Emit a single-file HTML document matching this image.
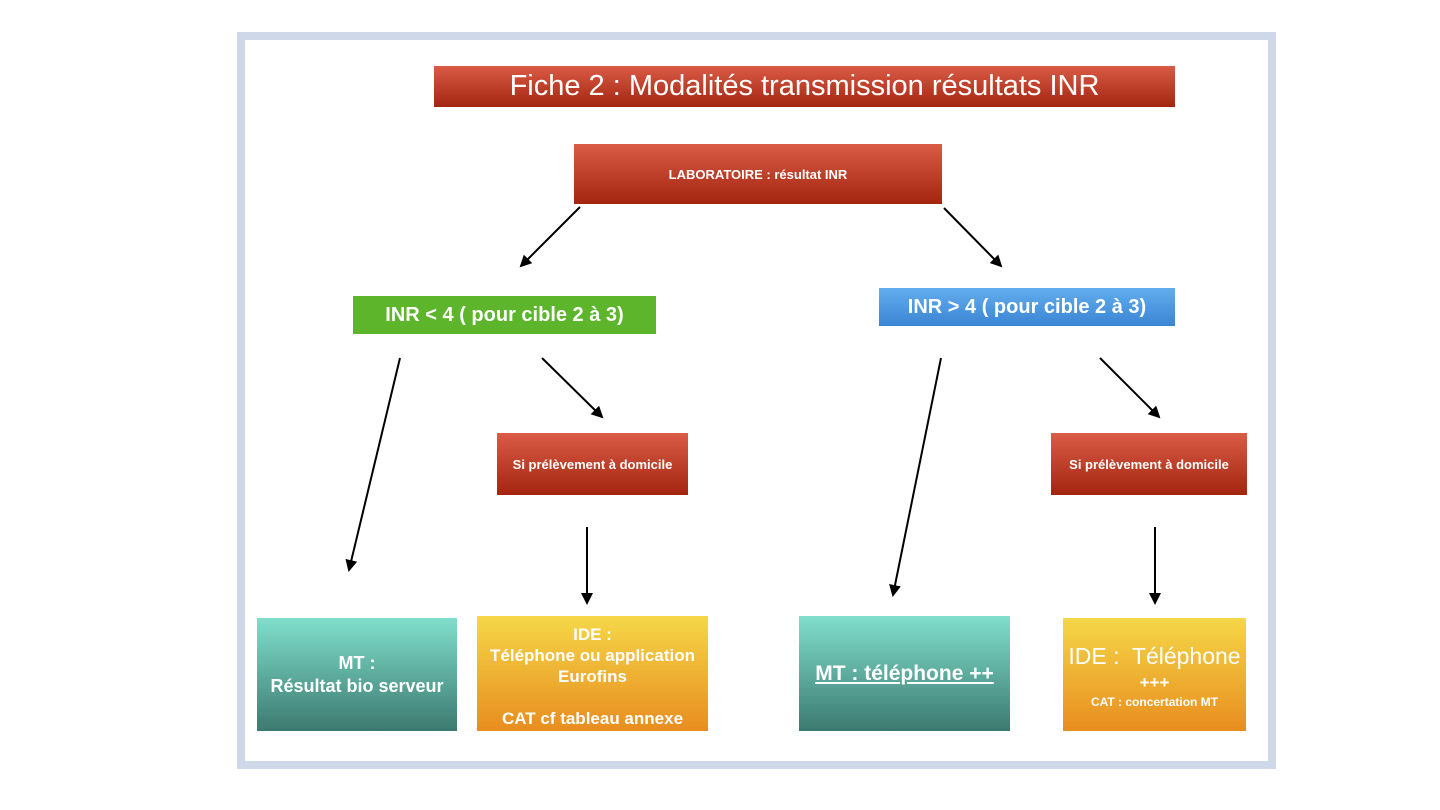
<!DOCTYPE html>
<html><head><meta charset="utf-8"><style>
html,body{margin:0;padding:0;background:#fff;}
body{width:1440px;height:810px;position:relative;overflow:hidden;font-family:"Liberation Sans",Arial,sans-serif;}
.frame{position:absolute;left:237px;top:32px;width:1023px;height:721px;border:8px solid #cfd8e8;background:#fff;}
.b{position:absolute;display:flex;flex-direction:column;align-items:center;justify-content:center;text-align:center;color:#fff;box-sizing:border-box;}
.red{background:linear-gradient(#da5c47,#a3250f);}
.green{background:#5cb52b;}
.blue{background:linear-gradient(#62aeee,#3a84d4);}
.teal{background:linear-gradient(#80dfcc,#3c7a70);}
.yel{background:linear-gradient(#f5d748,#e88d1f);}
svg{position:absolute;left:0;top:0;}
</style></head><body>
<div class="frame"></div>
<div class="b red" style="left:434px;top:66px;width:741px;height:41px;font-size:29px;">Fiche 2 : Modalités transmission résultats INR</div>
<div class="b red" style="left:574px;top:144px;width:368px;height:60px;font-size:13px;font-weight:bold;">LABORATOIRE : résultat INR</div>
<div class="b green" style="left:353px;top:296px;width:303px;height:38px;font-size:20px;font-weight:bold;">INR &lt; 4 ( pour cible 2 à 3)</div>
<div class="b blue" style="left:879px;top:288px;width:296px;height:38px;font-size:20px;font-weight:bold;">INR &gt; 4 ( pour cible 2 à 3)</div>
<div class="b red" style="left:497px;top:433px;width:191px;height:62px;font-size:13px;font-weight:bold;">Si prélèvement à domicile</div>
<div class="b red" style="left:1051px;top:433px;width:196px;height:62px;font-size:13px;font-weight:bold;">Si prélèvement à domicile</div>
<div class="b teal" style="left:257px;top:618px;width:200px;height:113px;font-size:18px;font-weight:bold;line-height:23px;">MT :<br>Résultat bio serveur</div>
<div class="b yel" style="left:477px;top:616px;width:231px;height:115px;font-size:17px;font-weight:bold;line-height:21px;justify-content:flex-start;padding-top:8px;">IDE :<br>Téléphone ou application<br>Eurofins<br><br>CAT cf tableau annexe</div>
<div class="b teal" style="left:799px;top:616px;width:211px;height:115px;font-size:21px;font-weight:bold;text-decoration:underline;">MT : téléphone ++</div>
<div class="b yel" style="left:1063px;top:618px;width:183px;height:113px;font-weight:bold;"><div style="font-size:23px;line-height:30px;font-weight:normal;">IDE :&nbsp; Téléphone</div><div style="font-size:17px;line-height:24px;">+++</div><div style="font-size:12px;">CAT : concertation MT</div></div>
<svg width="1440" height="810"><defs><marker id="a" markerWidth="12" markerHeight="12" refX="10" refY="6" orient="auto" markerUnits="userSpaceOnUse"><path d="M0,0 L12,6 L0,12 z" fill="#000"/></marker></defs>
<g stroke="#000" stroke-width="2" marker-end="url(#a)">
<line x1="580" y1="207" x2="521" y2="266"/>
<line x1="944" y1="208" x2="1001" y2="266"/>
<line x1="400" y1="358" x2="349" y2="570"/>
<line x1="542" y1="358" x2="602" y2="417"/>
<line x1="587" y1="527" x2="587" y2="603"/>
<line x1="941" y1="358" x2="893" y2="595"/>
<line x1="1100" y1="358" x2="1159" y2="417"/>
<line x1="1155" y1="527" x2="1155" y2="603"/>
</g></svg>
</body></html>
